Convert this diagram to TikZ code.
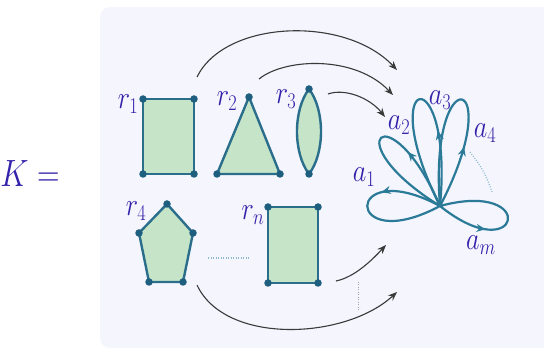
\RequirePackage{fix-cm}
\documentclass[tikz,border=0pt]{standalone}
\usetikzlibrary{arrows.meta,decorations.markings}
\definecolor{bgc}{HTML}{F4F5FD}
\definecolor{fillg}{HTML}{C6E5C8}
\definecolor{edgec}{HTML}{2B6E8C}
\definecolor{dotc}{HTML}{1E5F7F}
\definecolor{loopc}{HTML}{2A7A98}
\definecolor{lblc}{HTML}{3322AA}
\definecolor{arrc}{HTML}{3A3A3A}
\definecolor{dotb}{HTML}{8FB8CC}
\newcommand{\nrw}[1]{\scalebox{0.82}[1]{#1}}
\begin{document}
\begin{tikzpicture}[x=1pt,y=-1pt,
  cell/.style={draw=edgec, line width=2.4pt, fill=fillg, line join=round},
  vtx/.style={circle, fill=dotc, inner sep=0pt, minimum size=7.5pt},
  lbl/.style={text=lblc, inner sep=0pt, font=\fontsize{32}{38}\selectfont},
  flow/.style={draw=arrc, line width=1.1pt, -{Stealth[length=9pt,width=7pt]}},
  petal/.style={draw=loopc, line width=2.2pt, postaction={decorate},
    decoration={markings, mark=at position #1 with {\arrow{Stealth[length=9pt,width=8pt]}}}},
  faint/.style={draw=dotb, line width=1.1pt, dash pattern=on 1pt off 1.5pt},
  faintgray/.style={draw=gray!70, line width=1pt, dash pattern=on 1pt off 1.5pt}
]
\useasboundingbox (0,0) rectangle (544,352);
\fill[bgc, rounded corners=10pt] (100,7) rectangle (570,348);

% K =
\node[lbl, font=\fontsize{38}{44}\selectfont] (K) at (30,174) {\nrw{$K=$}};

% vertices
\coordinate (p11) at (143,99);  \coordinate (p12) at (194,99);
\coordinate (p13) at (194,174); \coordinate (p14) at (143,174);
\coordinate (p21) at (249,97);  \coordinate (p22) at (280,174);
\coordinate (p23) at (217,174);
\coordinate (p31) at (309,89);  \coordinate (p32) at (309,174);
\coordinate (p41) at (167,204); \coordinate (p42) at (193,233);
\coordinate (p43) at (183,282); \coordinate (p44) at (149,282);
\coordinate (p45) at (139,233);
\coordinate (pn1) at (268,207); \coordinate (pn2) at (318,207);
\coordinate (pn3) at (318,283); \coordinate (pn4) at (268,283);

% cells
\draw[cell] (p11) -- (p12) -- (p13) -- (p14) -- cycle;
\draw[cell] (p21) -- (p22) -- (p23) -- cycle;
\draw[cell] (p31) .. controls (293,110) and (293,153) .. (p32)
               .. controls (325,153) and (325,110) .. (p31) -- cycle;
\draw[cell] (p41) -- (p42) -- (p43) -- (p44) -- (p45) -- cycle;
\draw[cell] (pn1) -- (pn2) -- (pn3) -- (pn4) -- cycle;

\foreach \v in {p11,p12,p13,p14,p21,p22,p23,p31,p32,p41,p42,p43,p44,p45,pn1,pn2,pn3,pn4}
  \node[vtx] (d\v) at (\v) {};

% cell labels
\node[lbl] (r1) at (128,104) {\nrw{$r_1$}};
\node[lbl] (r2) at (227,101) {\nrw{$r_2$}};
\node[lbl] (r3) at (286,99) {\nrw{$r_3$}};
\node[lbl] (r4) at (136,211) {\nrw{$r_4$}};
\node[lbl] (rn) at (253,215) {\nrw{$r_n$}};

% dotted separators
\coordinate (m1) at (208,258); \coordinate (m2) at (249,258);
\draw[faint] (m1) -- (m2);
\coordinate (m3) at (358,282); \coordinate (m4) at (358,310);
\draw[faintgray] (m3) -- (m4);

% flow arrows
\coordinate (s1) at (197,77);  \coordinate (e1) at (397,70);
\coordinate (s2) at (259,79);  \coordinate (e2) at (393,95);
\coordinate (s3) at (328,94);  \coordinate (e3) at (385,117);
\coordinate (s4) at (336,281); \coordinate (e4) at (386,245);
\coordinate (s5) at (197,285); \coordinate (e5) at (397,292);
\draw[flow] (s1) .. controls (225,20) and (345,15) .. (e1);
\draw[flow] (s2) .. controls (285,58) and (355,55) .. (e2);
\draw[flow] (s3) .. controls (345,88) and (370,98) .. (e3);
\draw[flow] (s4) .. controls (355,277) and (372,260) .. (e4);
\draw[flow] (s5) .. controls (225,345) and (345,340) .. (e5);

% bouquet
\coordinate (O) at (440,206);
\draw[petal=0.37] (O) .. controls (343,154) and (343,258) .. (O);
\draw[petal=0.33] (O) .. controls (390,90) and (333,140) .. (O);
\draw[petal=0.33] (O) .. controls (454,56) and (372,71) .. (O);
\draw[petal=0.28] (O) .. controls (510,72) and (428,56) .. (O);
\draw[petal=0.33] (O) .. controls (521,271) and (540,179) .. (O);

\coordinate (q1) at (470,152); \coordinate (q2) at (492,192);
\draw[faint] (q1) to[bend left=10] (q2);

\node[lbl] (a1) at (364,177) {\nrw{$a_1$}};
\node[lbl] (a2) at (399,125) {\nrw{$a_2$}};
\node[lbl] (a3) at (440,100) {\nrw{$a_3$}};
\node[lbl] (a4) at (485,133) {\nrw{$a_4$}};
\node[lbl] (am) at (481,245) {\nrw{$a_m$}};
\end{tikzpicture}
\end{document}
